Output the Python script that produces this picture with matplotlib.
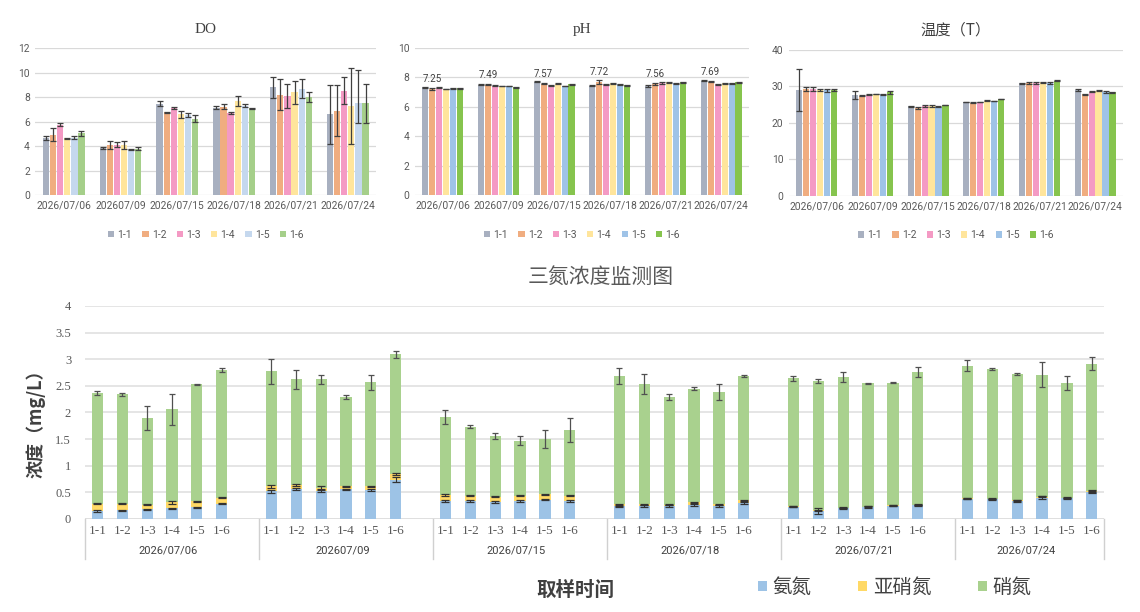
import matplotlib
matplotlib.use("Agg")
import matplotlib.pyplot as plt
import matplotlib.transforms as mtransforms
import numpy as np

plt.rcParams['font.family'] = ['Roboto', 'Noto Sans CJK SC', 'DejaVu Sans']

# ---------------- data ----------------
dates = ['2026/07/06', '202607/09', '2026/07/15', '2026/07/18', '2026/07/21', '2026/07/24']
sites = ['1-1', '1-2', '1-3', '1-4', '1-5', '1-6']

# DO (rows: dates, cols: sites)
do_vals = [[4.65, 4.95, 5.75, 4.65, 4.7, 5.05],
           [3.85, 4.1, 4.1, 4.1, 3.75, 3.8],
           [7.45, 6.75, 7.1, 6.6, 6.55, 6.25],
           [7.15, 7.2, 6.7, 7.7, 7.3, 7.1],
           [8.8, 8.2, 8.1, 8.4, 8.7, 8.0],
           [6.6, 6.9, 8.5, 7.3, 7.5, 7.5]]
do_err_lo = [[0.15, 0.5, 0.1, 0.05, 0.1, 0.2],
             [0.05, 0.3, 0.2, 0.35, 0.05, 0.15],
             [0.2, 0.05, 0.1, 0.3, 0.15, 0.3],
             [0.1, 0.2, 0.1, 0.4, 0.1, 0.05],
             [0.85, 1.25, 0.95, 0.95, 0.8, 0.4],
             [2.4, 2.1, 1.1, 3.1, 1.6, 1.6]]
do_err_hi = [[0.15, 0.5, 0.1, 0.05, 0.1, 0.2],
             [0.05, 0.3, 0.2, 0.35, 0.05, 0.15],
             [0.2, 0.05, 0.1, 0.3, 0.15, 0.3],
             [0.1, 0.2, 0.1, 0.4, 0.1, 0.05],
             [0.85, 1.25, 0.95, 0.95, 0.8, 0.4],
             [2.4, 2.1, 1.1, 3.1, 2.7, 1.6]]

# pH
ph_vals = [[7.32, 7.22, 7.3, 7.22, 7.27, 7.27],
           [7.5, 7.5, 7.45, 7.42, 7.42, 7.32],
           [7.72, 7.58, 7.48, 7.57, 7.42, 7.55],
           [7.45, 7.68, 7.55, 7.6, 7.55, 7.48],
           [7.42, 7.58, 7.65, 7.68, 7.62, 7.68],
           [7.78, 7.7, 7.55, 7.6, 7.6, 7.68]]
ph_err = [[0.03, 0.04, 0.03, 0.03, 0.03, 0.03],
          [0.03, 0.03, 0.02, 0.03, 0.02, 0.02],
          [0.04, 0.03, 0.03, 0.03, 0.02, 0.03],
          [0.03, 0.15, 0.03, 0.03, 0.03, 0.04],
          [0.04, 0.06, 0.06, 0.03, 0.03, 0.03],
          [0.03, 0.03, 0.03, 0.03, 0.03, 0.03]]
ph_labels = ['7.25', '7.49', '7.57', '7.72', '7.56', '7.69']
ph_label_vals = [7.25, 7.49, 7.57, 7.72, 7.56, 7.69]

# Temperature
t_vals = [[29.0, 29.3, 29.2, 29.0, 28.9, 29.0],
          [27.6, 27.4, 27.7, 27.9, 27.8, 28.4],
          [24.5, 24.1, 24.6, 24.6, 24.4, 24.9],
          [25.7, 25.5, 25.7, 26.1, 26.0, 26.5],
          [30.8, 30.8, 30.8, 31.1, 30.9, 31.5],
          [29.0, 27.8, 28.5, 28.8, 28.5, 28.4]]
t_err = [[5.7, 0.5, 0.5, 0.4, 0.5, 0.3],
         [1.0, 0.1, 0.1, 0.1, 0.1, 0.4],
         [0.1, 0.2, 0.4, 0.4, 0.1, 0.1],
         [0.1, 0.1, 0.1, 0.1, 0.1, 0.1],
         [0.1, 0.3, 0.3, 0.1, 0.4, 0.1],
         [0.2, 0.2, 0.1, 0.1, 0.2, 0.1]]

# Three-nitrogen (rows: dates, cols: sites)
ammonia = [[0.15, 0.16, 0.18, 0.20, 0.22, 0.29],
           [0.52, 0.56, 0.52, 0.56, 0.54, 0.74],
           [0.34, 0.34, 0.32, 0.34, 0.36, 0.34],
           [0.24, 0.25, 0.24, 0.27, 0.25, 0.30],
           [0.23, 0.15, 0.20, 0.22, 0.25, 0.26],
           [0.38, 0.37, 0.34, 0.40, 0.39, 0.50]]
nitrite = [[0.14, 0.13, 0.09, 0.11, 0.11, 0.11],
           [0.09, 0.07, 0.07, 0.05, 0.07, 0.11],
           [0.11, 0.10, 0.10, 0.10, 0.10, 0.10],
           [0.04, 0.03, 0.03, 0.04, 0.03, 0.05],
           [0.01, 0.01, 0.01, 0.01, 0.01, 0.01],
           [0.01, 0.01, 0.01, 0.02, 0.01, 0.03]]
nitrate = [[2.07, 2.05, 1.63, 1.75, 2.20, 2.40],
           [2.16, 1.99, 2.03, 1.68, 1.96, 2.24],
           [1.46, 1.29, 1.14, 1.03, 1.05, 1.23],
           [2.41, 2.26, 2.02, 2.14, 2.11, 2.34],
           [2.40, 2.43, 2.46, 2.32, 2.30, 2.49],
           [2.49, 2.44, 2.38, 2.29, 2.15, 2.39]]
ammonia_err = [[0.01, 0.01, 0.01, 0.01, 0.01, 0.01],
               [0.03, 0.02, 0.02, 0.01, 0.02, 0.04],
               [0.02, 0.02, 0.02, 0.02, 0.01, 0.02],
               [0.01, 0.02, 0.02, 0.02, 0.02, 0.02],
               [0.01, 0.05, 0.01, 0.02, 0.01, 0.01],
               [0.01, 0.01, 0.02, 0.03, 0.01, 0.01]]
nitrite_err = [[0.01, 0.01, 0.01, 0.02, 0.01, 0.01],
               [0.02, 0.02, 0.02, 0.01, 0.01, 0.02],
               [0.01, 0.01, 0.01, 0.01, 0.01, 0.01],
               [0.01, 0.01, 0.01, 0.01, 0.01, 0.01],
               [0.01, 0.01, 0.01, 0.01, 0.01, 0.01],
               [0.01, 0.01, 0.01, 0.01, 0.01, 0.01]]
total_err = [[0.04, 0.03, 0.22, 0.29, 0.01, 0.04],
             [0.24, 0.17, 0.09, 0.04, 0.14, 0.07],
             [0.13, 0.03, 0.06, 0.09, 0.17, 0.23],
             [0.15, 0.19, 0.06, 0.02, 0.15, 0.02],
             [0.04, 0.04, 0.09, 0.01, 0.01, 0.10],
             [0.11, 0.02, 0.02, 0.24, 0.13, 0.12]]
n_names = ['氨氮', '亚硝氮', '硝氮']

# ---------------- styles ----------------
TXT = '#595959'
GRID = '#d9d9d9'
ERRC = '#3f3f3f'
colors_do = ['#a8b0c0', '#f0ad80', '#f49ac4', '#ffe59c', '#c5d8ee', '#a5cf8a']
colors_ph = ['#a8b0c0', '#f0ad80', '#f49ac4', '#ffe59c', '#9fc3e7', '#86c44e']
colors_t = ['#a8b0c0', '#f0ad80', '#f49ac4', '#ffe59c', '#9fc3e7', '#86c44e']
n_colors = ['#9dc3e6', '#ffd966', '#a9d18e']

fig = plt.figure(figsize=(11.4, 6.12), dpi=100)


def small_chart(rect, vals, err_lo, err_hi, colors, ymax, step, title, title_family):
    ax = fig.add_axes(rect)
    vals = np.array(vals)
    lo = np.array(err_lo)
    hi = np.array(err_hi)
    x = np.arange(len(dates))
    w = 0.125
    for j, s in enumerate(sites):
        pos = x + (j - 2.5) * w
        ax.bar(pos, vals[:, j], width=w * 0.88, color=colors[j], label=s, zorder=2)
        ax.errorbar(pos, vals[:, j], yerr=[lo[:, j], hi[:, j]], fmt='none',
                    ecolor=ERRC, elinewidth=0.9, capsize=2.2, capthick=0.9, zorder=3)
    ax.set_xlim(-0.5, len(dates) - 0.5)
    ax.set_ylim(0, ymax)
    ax.set_yticks(np.arange(0, ymax + step / 2, step))
    ax.yaxis.grid(True, color=GRID, lw=0.9, zorder=0)
    ax.set_axisbelow(True)
    for sp in ax.spines.values():
        sp.set_visible(False)
    ax.tick_params(length=0, labelsize=7.4, colors=TXT, pad=4)
    ax.set_xticks(x)
    ax.set_xticklabels(dates)
    ax.set_title(title, fontsize=11, color='#404040', pad=11, family=title_family)
    ax.legend(loc='upper center', bbox_to_anchor=(0.5, -0.17), ncol=6, frameon=False,
              fontsize=7.5, handlelength=0.6, handleheight=0.6, handletextpad=0.3,
              columnspacing=1.0, labelcolor=TXT)
    return ax


ax1 = small_chart([0.031, 0.681, 0.299, 0.2405], do_vals, do_err_lo, do_err_hi,
                  colors_do, 12, 2, 'DO', ['Liberation Serif'])
ax2 = small_chart([0.364, 0.681, 0.293, 0.2405], ph_vals, ph_err, ph_err,
                  colors_ph, 10, 2, 'pH', ['Liberation Serif'])
ax3 = small_chart([0.692, 0.680, 0.293, 0.2386], t_vals, t_err, t_err,
                  colors_t, 40, 10, '温度（T）', ['Noto Sans CJK SC'])

for i, (lab, v) in enumerate(zip(ph_labels, ph_label_vals)):
    ax2.annotate(lab, (i - 0.19, v), xytext=(0, 7), textcoords='offset points',
                 ha='center', va='center', fontsize=7, color='#404040')

# ---------------- three nitrogen chart ----------------
axb = fig.add_axes([0.0746, 0.152, 0.894, 0.348])
A = np.array(ammonia)
N2 = np.array(nitrite)
N3 = np.array(nitrate)
EA = np.array(ammonia_err)
EN = np.array(nitrite_err)
ET = np.array(total_err)
ng = len(dates)
positions = []
for g in range(ng):
    for j in range(len(sites)):
        positions.append(g * 7 + j)
positions = np.array(positions)
a = A.ravel()
n2 = N2.ravel()
n3 = N3.ravel()
bw = 0.45
axb.bar(positions, a, width=bw, color=n_colors[0], label=n_names[0], zorder=2)
axb.bar(positions, n2, width=bw, bottom=a, color=n_colors[1], label=n_names[1], zorder=2)
axb.bar(positions, n3, width=bw, bottom=a + n2, color=n_colors[2], label=n_names[2], zorder=2)
axb.errorbar(positions, a, yerr=EA.ravel(), fmt='none', ecolor='#333333',
             elinewidth=0.8, capsize=2.6, capthick=0.9, zorder=3)
axb.errorbar(positions, a + n2, yerr=EN.ravel(), fmt='none', ecolor='#333333',
             elinewidth=0.8, capsize=2.6, capthick=0.9, zorder=3)
axb.errorbar(positions, a + n2 + n3, yerr=ET.ravel(), fmt='none', ecolor='#505050',
             elinewidth=0.9, capsize=2.5, capthick=0.9, zorder=3)

axb.set_xlim(-0.5, 7 * ng - 1.5)
axb.set_ylim(0, 4)
axb.set_yticks(np.arange(0, 4.01, 0.5))
axb.set_yticklabels(['0', '0.5', '1', '1.5', '2', '2.5', '3', '3.5', '4'],
                    family='Liberation Serif')
axb.yaxis.grid(True, color='#e3e3e3', lw=1.3, zorder=0)
axb.set_axisbelow(True)
for k, sp in axb.spines.items():
    sp.set_visible(False)
axb.axhline(0, color='#c8c8c8', lw=1.0, zorder=1)
axb.tick_params(axis='y', length=0, labelsize=9, colors=TXT, pad=10)
axb.set_xticks(positions)
axb.set_xticklabels(sites * ng, family='Liberation Serif', fontsize=9.5, color=TXT)
axb.tick_params(axis='x', length=0, pad=4)

trans = mtransforms.blended_transform_factory(axb.transData, axb.transAxes)
seps = [-0.5] + [g * 7 + 6.5 for g in range(ng - 1)] + [7 * ng - 1.5]
for s in seps:
    axb.plot([s, s], [0, -0.19], transform=trans, color='#d0d0d0', lw=1.0, clip_on=False)
for g in range(ng):
    c = (seps[g] + seps[g + 1]) / 2
    axb.text(c - 0.15, -0.146, dates[g], transform=trans, ha='center', va='center',
             fontsize=8, color='#404040')

fig.text(0.527, 0.548, '三氮浓度监测图', ha='center', va='center', fontsize=15,
         color='#595959', family=['Noto Sans CJK SC'])
fig.text(0.031, 0.315, '浓度（mg/L）', ha='center', va='center', rotation=90,
         fontsize=13, fontweight='bold', color='#404040', family=['Noto Sans CJK SC', 'DejaVu Sans'])
fig.text(0.505, 0.035, '取样时间', ha='center', va='center', fontsize=14,
         fontweight='bold', color='#404040', family=['Noto Sans CJK SC'])
h, l = axb.get_legend_handles_labels()
fig.legend(h[:3], l[:3], loc='center', bbox_to_anchor=(0.785, 0.04), ncol=3, frameon=False,
           prop={'family': ['Noto Sans CJK SC'], 'size': 14}, handlelength=0.45,
           handleheight=0.45, handletextpad=0.3, columnspacing=2.4, labelcolor='#404040')

fig.savefig('out.png', dpi=100)
